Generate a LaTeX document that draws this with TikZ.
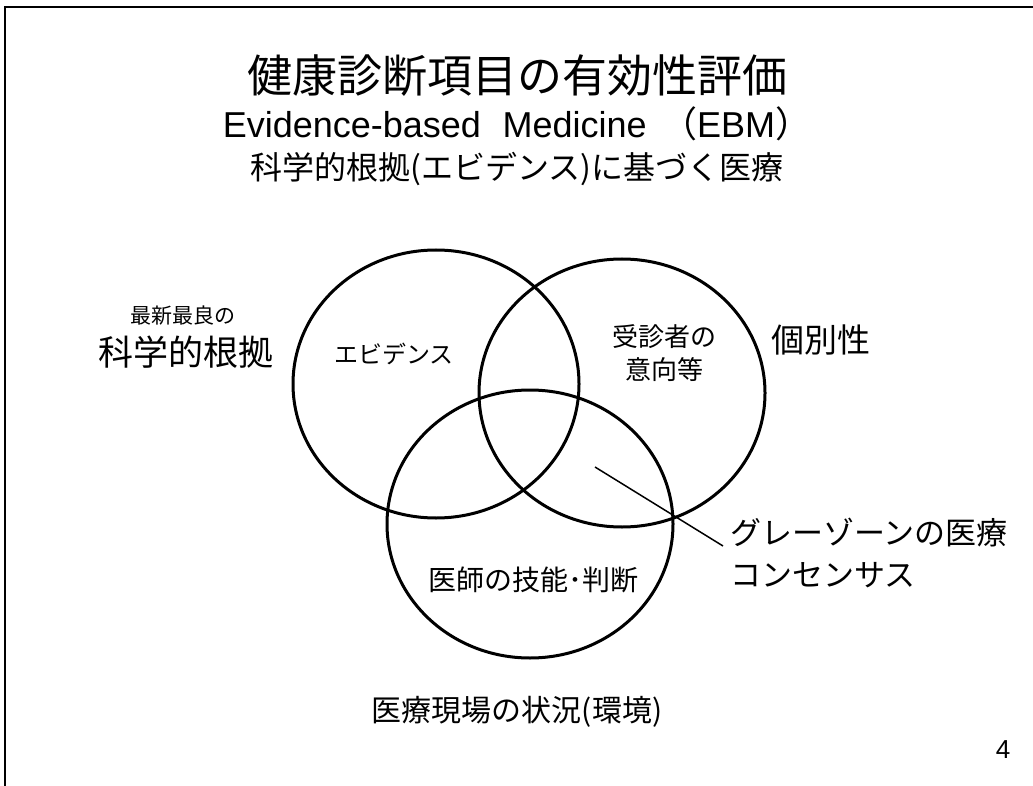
\documentclass[tikz,border=0pt]{standalone}
\usepackage{fontspec}
\setmainfont{Liberation Sans}
\newfontfamily\jp{Noto Sans CJK JP}
\tikzset{
  venn/.style={draw=black, line width=3pt},
  lbl/.style={inner sep=0pt, font=\jp},
  frame/.style={draw=black, line width=1.8pt},
}
\newcommand{\fs}[1]{\fontsize{#1}{#1}\selectfont}
\begin{document}
\begin{tikzpicture}[x=1pt,y=-1pt]
\useasboundingbox (0,0) rectangle (1033,786);
\fill[white] (0,0) rectangle (1033,786);
% frame
\draw[frame] (1033,7) -- (5,7) -- (5,786);
% titles
\node[lbl] (title) at (517,76) {\fs{45}健康診断項目の有効性評価};
\node[lbl, font=\normalfont] (ebm) at (517,124) {\fs{36}Evidence-based\hspace{0.6em}Medicine\hspace{0.4em}{\jp （}EBM{\jp ）}};
\node[lbl] (sub) at (517,169) {\fs{32}科学的根拠(エビデンス)に基づく医療};
% circles
\draw[venn] (436,384) ellipse [x radius=143, y radius=134];
\draw[venn] (622,393) ellipse [x radius=143, y radius=134];
\draw[venn] (530,524) ellipse [x radius=143, y radius=134];
% labels
\node[lbl] (new) at (183,316) {\fs{21}最新最良の};
\node[lbl] (sci) at (186,352) {\fs{35}科学的根拠};
\node[lbl] (evi) at (394,354) {\fs{24}エビデンス};
\node[lbl, align=center] (pat) at (664,353) {\fs{26}受診者の\\[8pt]\fs{26}意向等};
\node[lbl] (ind) at (821,340) {\fs{33}個別性};
\node[lbl] (doc) at (533,580) {\fs{28}医師の技能･判断};
\node[lbl, anchor=west] (gray) at (730,533) {\fs{31}グレーゾーンの医療};
\node[lbl, anchor=west] (cons) at (730,575) {\fs{31}コンセンサス};
\node[lbl] (env) at (517,712) {\fs{30}医療現場の状況(環境)};
\node[lbl, font=\normalfont] (page) at (1003,750) {\fs{26}4};
% connector
\coordinate (gz) at (595,467);
\coordinate (gzend) at (723,546);
\draw[line width=1.5pt] (gz) -- (gzend);
\end{tikzpicture}
\end{document}
